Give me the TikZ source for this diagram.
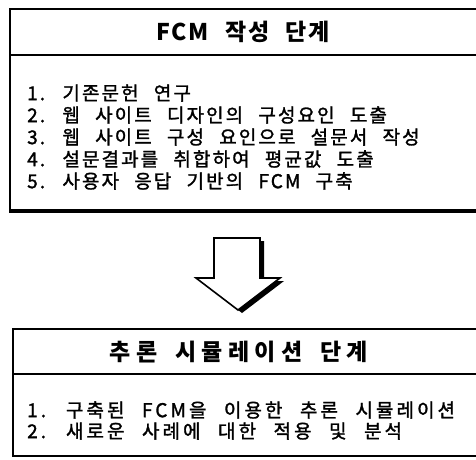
\documentclass[tikz,border=0pt]{standalone}
\usepackage{fontspec}
\newfontfamily\krtitle[LetterSpace=8,WordSpace=2.3]{Noto Sans CJK KR}
\newfontfamily\krtitlewide[LetterSpace=23,WordSpace=1.7]{Noto Sans CJK KR}
\newfontfamily\kritem[LetterSpace=11,WordSpace=2.4,FakeBold=1.5]{Noto Sans CJK KR}
\newfontfamily\kritemwide[LetterSpace=16,WordSpace=2.4,FakeBold=1.5]{Noto Sans CJK KR}
\tikzset{
  frame/.style={draw=black, line width=1.6pt},
  heavy/.style={draw=black, line width=3.6pt},
  ttl/.style={inner sep=0pt, font=\krtitle\bfseries\fontsize{23}{27}\selectfont},
  ttlwide/.style={inner sep=0pt, font=\krtitlewide\bfseries\fontsize{23}{27}\selectfont},
  itm/.style={anchor=west, inner sep=0pt, font=\kritem\fontsize{19}{22}\selectfont},
  itmwide/.style={anchor=west, inner sep=0pt, font=\kritemwide\fontsize{19}{22}\selectfont},
  blockarrow/.style={fill=white, draw=black, line width=1.6pt, line join=miter}
}
\begin{document}
\begin{tikzpicture}[x=1pt,y=-1pt]
\useasboundingbox (0,0) rectangle (476,459);
\fill[white] (0,0) rectangle (476,459);
% top box
\draw[frame] (480,9) -- (10,9) -- (10,211);
\draw[frame] (10,55) -- (480,55);
\draw[heavy] (9,211) -- (480,211);
\node[ttl] (t1) at (243,32) {FCM 작성 단계};
\node[itm] (a1) at (27,93) {1. 기존문헌 연구};
\node[itm] (a2) at (27,115) {2. 웹 사이트 디자인의 구성요인 도출};
\node[itm] (a3) at (27,137) {3. 웹 사이트 구성 요인으로 설문서 작성};
\node[itm] (a4) at (27,159) {4. 설문결과를 취합하여 평균값 도출};
\node[itm] (a5) at (27,181) {5. 사용자 응답 기반의 FCM 구축};
% arrow
\fill[black] (218,241) -- (264,241) -- (264,281) -- (284,281) -- (242,313) -- (200,281) -- (218,281) -- cycle;
\path[blockarrow] (214,238) -- (260,238) -- (260,278) -- (280,278) -- (238,310) -- (196,278) -- (214,278) -- cycle;
% bottom box
\draw[frame] (480,329) -- (13,329) -- (13,456) -- (480,456);
\draw[frame] (13,374) -- (480,374);
\node[ttlwide] (t2) at (239,352) {추론 시뮬레이션 단계};
\node[itmwide] (b1) at (27,410) {1. 구축된 FCM을 이용한 추론 시뮬레이션};
\node[itmwide] (b2) at (27,431) {2. 새로운 사례에 대한 적용 및 분석};
\end{tikzpicture}
\end{document}
